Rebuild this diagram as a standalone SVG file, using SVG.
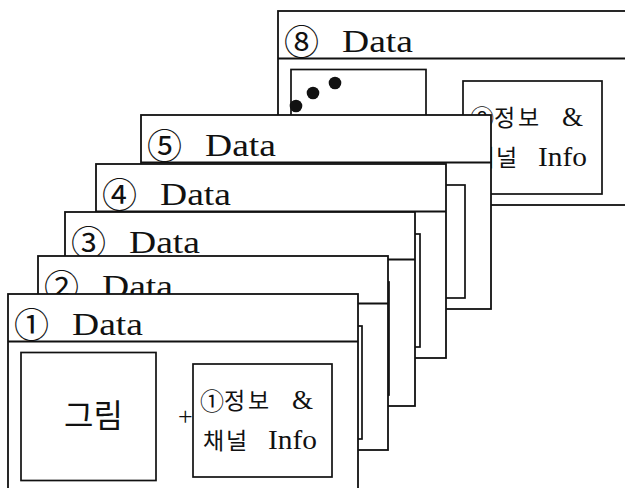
<svg xmlns="http://www.w3.org/2000/svg" width="625" height="488" viewBox="0 0 625 488">
<style>
.frame{fill:#fff;stroke:#111;stroke-width:1.8}
.box{fill:#fff;stroke:#111;stroke-width:1.7}
.ln{stroke:#111;stroke-width:1.8}
.num{font-family:"Noto Sans CJK KR","DejaVu Sans",sans-serif;font-size:35px;fill:#111}
.data{font-family:"Liberation Serif",serif;font-size:31px;fill:#111}
.kr{font-family:"Noto Sans CJK KR",sans-serif;font-size:23px;fill:#111}
.snum{font-family:"Noto Sans CJK KR",sans-serif;font-size:24px;fill:#111}
.ser{font-family:"Liberation Serif",serif;font-size:27px;fill:#111}
.pic{font-family:"Noto Sans CJK KR",sans-serif;font-size:32px;fill:#111}
</style>
<rect width="625" height="488" fill="#fff"/>

<g id="frame8" transform="translate(278,11)">
<rect class="frame" x="0" y="0" width="350" height="194"/>
<line class="ln" x1="0" y1="47.5" x2="350" y2="47.5"/>
<text class="num" x="6" y="44">⑧</text>
<text class="data" x="64" y="41" textLength="71" lengthAdjust="spacingAndGlyphs">Data</text>
<rect class="box" x="13" y="58.5" width="135" height="128"/>
<circle cx="57" cy="72" r="6.3" fill="#111"/>
<circle cx="35" cy="82" r="6.3" fill="#111"/>
<circle cx="18" cy="95" r="6.3" fill="#111"/>
<rect class="box" x="185" y="70" width="139" height="113"/>
<text x="0" y="0"><tspan class="snum" x="192" y="116">⑧</tspan><tspan class="kr" x="216" y="115">정</tspan><tspan class="kr" x="240" y="115">보</tspan><tspan class="ser" x="284" y="115">&amp;</tspan></text>
<text x="0" y="0"><tspan class="kr" x="195" y="155">채</tspan><tspan class="kr" x="218" y="155">널</tspan><tspan class="ser" x="260" y="155" textLength="49" lengthAdjust="spacingAndGlyphs">Info</tspan></text>
</g>

<g id="frame5" transform="translate(141,115)">
<rect class="frame" x="0" y="0" width="350" height="194"/>
<line class="ln" x1="0" y1="47.5" x2="350" y2="47.5"/>
<text class="num" x="6" y="44">⑤</text>
<text class="data" x="64" y="41" textLength="71" lengthAdjust="spacingAndGlyphs">Data</text>
<rect class="box" x="13" y="58.5" width="135" height="128"/>
<rect class="box" x="185" y="70" width="139" height="113"/>
</g>

<g id="frame4" transform="translate(96,164)">
<rect class="frame" x="0" y="0" width="350" height="194"/>
<line class="ln" x1="0" y1="47.5" x2="350" y2="47.5"/>
<text class="num" x="6" y="44">④</text>
<text class="data" x="64" y="41" textLength="71" lengthAdjust="spacingAndGlyphs">Data</text>
<rect class="box" x="13" y="58.5" width="135" height="128"/>
<rect class="box" x="185" y="70" width="139" height="113"/>
</g>

<g id="frame3" transform="translate(65,212)">
<rect class="frame" x="0" y="0" width="350" height="194"/>
<line class="ln" x1="0" y1="47.5" x2="350" y2="47.5"/>
<text class="num" x="6" y="44">③</text>
<text class="data" x="64" y="41" textLength="71" lengthAdjust="spacingAndGlyphs">Data</text>
<rect class="box" x="13" y="58.5" width="135" height="128"/>
<rect class="box" x="185" y="70" width="139" height="113"/>
</g>

<g id="frame2" transform="translate(38,256)">
<rect class="frame" x="0" y="0" width="350" height="194"/>
<line class="ln" x1="0" y1="47.5" x2="350" y2="47.5"/>
<text class="num" x="6" y="44">②</text>
<text class="data" x="64" y="41" textLength="71" lengthAdjust="spacingAndGlyphs">Data</text>
<rect class="box" x="13" y="58.5" width="135" height="128"/>
<rect class="box" x="185" y="70" width="139" height="113"/>
</g>

<g id="frame1" transform="translate(8,294)">
<rect class="frame" x="0" y="0" width="350" height="196"/>
<line class="ln" x1="0" y1="47.5" x2="350" y2="47.5"/>
<text class="num" x="6" y="44">①</text>
<text class="data" x="64" y="41" textLength="71" lengthAdjust="spacingAndGlyphs">Data</text>
<rect class="box" x="13" y="58.5" width="135" height="128"/>
<text class="pic" x="56" y="133">그림</text>
<text class="ser" x="170" y="131" style="font-size:26px">+</text>
<rect class="box" x="185" y="70" width="139" height="113"/>
<text x="0" y="0"><tspan class="snum" x="192" y="116">①</tspan><tspan class="kr" x="216" y="115">정</tspan><tspan class="kr" x="240" y="115">보</tspan><tspan class="ser" x="284" y="115">&amp;</tspan></text>
<text x="0" y="0"><tspan class="kr" x="195" y="155">채</tspan><tspan class="kr" x="218" y="155">널</tspan><tspan class="ser" x="260" y="155" textLength="49" lengthAdjust="spacingAndGlyphs">Info</tspan></text>
</g>
</svg>
